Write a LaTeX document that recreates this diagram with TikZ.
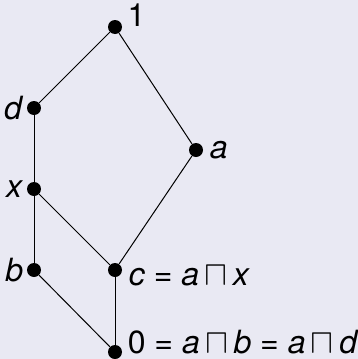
\documentclass[tikz,border=0pt]{standalone}
\usepackage{amssymb}
\usepackage{fontspec}
\setmainfont{TeX Gyre Heros}
\usepackage{tikz}
\definecolor{blockbg}{RGB}{233,233,243}
\newcommand{\eqsp}{\;=\;}
\newcommand{\meetop}{\,$\sqcap$\,}

\begin{document}
\begin{tikzpicture}[
    x=0.5pt, y=-0.5pt,
    elem/.style={circle, fill=black, inner sep=0pt, minimum size=7pt},
    lbl/.style={font=\fontsize{16}{19}\selectfont, inner sep=1.5pt},
    cover/.style={line width=0.5pt}
]
\fill[blockbg] (0,0) rectangle (358,359);
\useasboundingbox (0,0) rectangle (358,359);

\node[elem, label={[lbl, anchor=south west, xshift=2pt, yshift=-4pt]45:1}] (one) at (115,27) {};
\node[elem, label={[lbl]left:\textit{d}}] (d) at (34,108) {};
\node[elem, label={[lbl]left:\textit{x}}] (x) at (34,189) {};
\node[elem, label={[lbl]left:\textit{b}}] (b) at (34,270) {};
\node[elem, label={[lbl, inner sep=3pt]right:\textit{a}}] (a) at (196,150) {};
\node[elem, label={[lbl, inner sep=3pt, yshift=-3pt]right:\textit{c}\eqsp\textit{a}\meetop\textit{x}}] (c) at (115,270) {};
\node[elem, label={[lbl, inner sep=2.5pt, yshift=5pt]right:0\eqsp\textit{a}\meetop\textit{b}\eqsp\textit{a}\meetop\textit{d}}] (zero) at (115,352) {};

\draw[cover] (one) -- (d);
\draw[cover] (one) -- (a);
\draw[cover] (d) -- (x);
\draw[cover] (x) -- (b);
\draw[cover] (x) -- (c);
\draw[cover] (a) -- (c);
\draw[cover] (b) -- (zero);
\draw[cover] (c) -- (zero);
\end{tikzpicture}
\end{document}
